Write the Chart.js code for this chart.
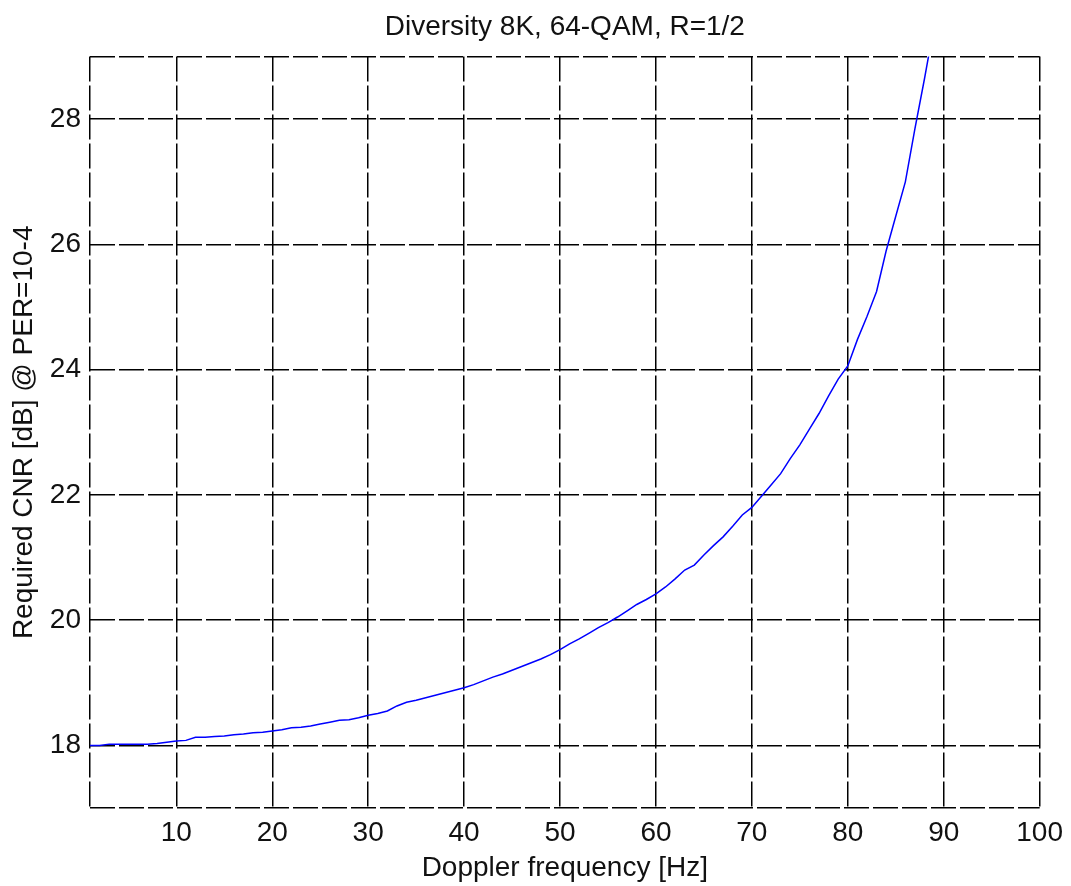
<!DOCTYPE html>
<html>
<head>
<meta charset="utf-8">
<script src="https://cdn.jsdelivr.net/npm/chart.js@4.4.1/dist/chart.umd.min.js"></script>
<style>
  body { margin: 0; background: #fff; }
  canvas { display: block; }
</style>
</head>
<body>
<canvas id="grafica" width="1071" height="886"></canvas>
<script>
// Doppler frequency [Hz] and required CNR [dB]
const doppler = [1, 2, 3, 4, 5, 6, 7, 8, 9, 10,
  11, 12, 13, 14, 15, 16, 17, 18, 19, 20,
  21, 22, 23, 24, 25, 26, 27, 28, 29, 30,
  31, 32, 33, 34, 35, 36, 37, 38, 39, 40,
  41, 42, 43, 44, 45, 46, 47, 48, 49, 50,
  51, 52, 53, 54, 55, 56, 57, 58, 59, 60,
  61, 62, 63, 64, 65, 66, 67, 68, 69, 70,
  71, 72, 73, 74, 75, 76, 77, 78, 79, 80,
  81, 82, 83, 84, 85, 86, 87, 88, 89];
const cnr = [18.00, 18.00, 18.02, 18.02, 18.02, 18.02, 18.02, 18.03, 18.05, 18.07,
  18.08, 18.13, 18.13, 18.14, 18.15, 18.17, 18.18, 18.20, 18.21, 18.23,
  18.25, 18.28, 18.29, 18.31, 18.34, 18.37, 18.40, 18.41, 18.44, 18.48,
  18.51, 18.55, 18.63, 18.69, 18.72, 18.76, 18.80, 18.84, 18.88, 18.92,
  18.97, 19.03, 19.09, 19.14, 19.20, 19.26, 19.32, 19.38, 19.45, 19.53,
  19.62, 19.70, 19.79, 19.88, 19.96, 20.05, 20.15, 20.25, 20.33, 20.42,
  20.53, 20.66, 20.80, 20.88, 21.04, 21.19, 21.33, 21.50, 21.68, 21.80,
  21.98, 22.16, 22.34, 22.58, 22.80, 23.05, 23.30, 23.58, 23.85, 24.06,
  24.48, 24.85, 25.25, 25.90, 26.45, 27.00, 27.85, 28.65, 29.50];

const xTicks = [10, 20, 30, 40, 50, 60, 70, 80, 90, 100];
const yTicks = [18, 20, 22, 24, 26, 28];
const xLimits = [1, 100];
const yLimits = [17, 29];

const fuente = "'Liberation Sans', Arial, sans-serif";
const tinta = "#111";

// grid lines at every tick plus the axis limits, so the frame is dashed too
function ticksConBordes(valores, limites) {
  const todos = [limites[0]].concat(valores.filter(v => v > limites[0] && v < limites[1]), [limites[1]]);
  return todos.map(v => ({ value: v }));
}

// title centred over the plot box, not over the whole canvas
const tituloSobreEjes = {
  id: "tituloSobreEjes",
  afterLayout(chart) {
    const t = chart.titleBlock;
    if (t) {
      t.left = chart.chartArea.left;
      t.right = chart.chartArea.right;
      t.width = t.right - t.left;
    }
  }
};

const ctx = document.getElementById("grafica").getContext("2d");

new Chart(ctx, {
  type: "line",
  data: {
    datasets: [{
      data: doppler.map((d, i) => ({ x: d, y: cnr[i] })),
      borderColor: "#0000ff",
      borderWidth: 1.5,
      pointRadius: 0,
      tension: 0,
      fill: false
    }]
  },
  plugins: [tituloSobreEjes],
  options: {
    responsive: false,
    animation: false,
    layout: { padding: { left: 0, right: 31, top: 0, bottom: 0 } },
    plugins: {
      legend: { display: false },
      tooltip: { enabled: false },
      title: {
        display: true,
        text: "Diversity 8K, 64-QAM, R=1/2",
        color: tinta,
        font: { family: fuente, size: 28, weight: "normal" },
        padding: { top: 10, bottom: 13 }
      }
    },
    scales: {
      x: {
        type: "linear",
        min: xLimits[0],
        max: xLimits[1],
        afterBuildTicks: s => { s.ticks = ticksConBordes(xTicks, xLimits); },
        afterFit: s => { s.height = 78; },
        ticks: {
          color: tinta,
          font: { family: fuente, size: 28 },
          padding: 8,
          maxRotation: 0,
          autoSkip: false,
          callback: v => xTicks.includes(v) ? String(v) : ""
        },
        grid: { color: "#000", lineWidth: 1.5, drawTicks: false },
        border: { display: false, dash: [25, 4] },
        title: {
          display: true,
          text: "Doppler frequency [Hz]",
          color: tinta,
          font: { family: fuente, size: 28 },
          padding: { top: 0, bottom: 1 }
        }
      },
      y: {
        min: yLimits[0],
        max: yLimits[1],
        afterBuildTicks: s => { s.ticks = ticksConBordes(yTicks, yLimits); },
        afterFit: s => { s.width = 90; },
        ticks: {
          color: tinta,
          font: { family: fuente, size: 28 },
          padding: 9,
          autoSkip: false,
          callback: v => yTicks.includes(v) ? String(v) : ""
        },
        grid: { color: "#000", lineWidth: 1.5, drawTicks: false },
        border: { display: false, dash: [25, 4] },
        title: {
          display: true,
          text: "Required CNR [dB] @ PER=10-4",
          color: tinta,
          font: { family: fuente, size: 28 },
          padding: { top: 7, bottom: 0 }
        }
      }
    }
  }
});
</script>
</body>
</html>
